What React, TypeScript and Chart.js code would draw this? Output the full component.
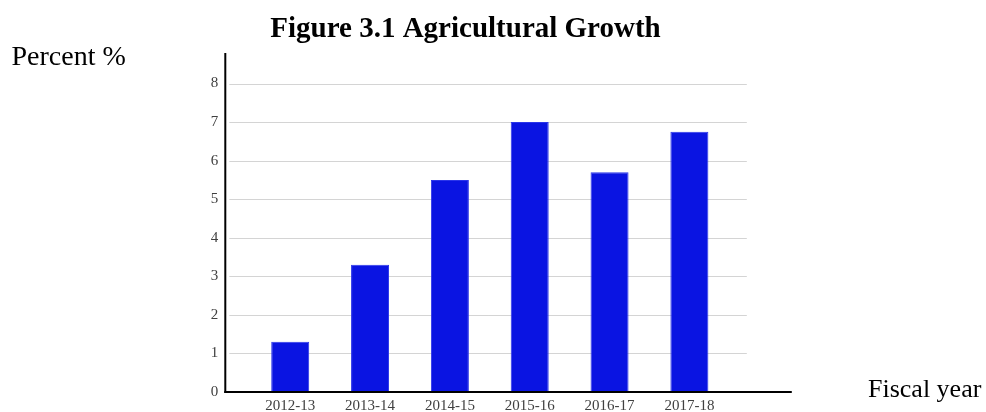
import React, { useEffect, useRef } from "react";
import { Chart, registerables } from "chart.js";

Chart.register(...registerables);

const TITLE = "Figure 3.1 Agricultural Growth";
const Y_LABEL = "Percent %";
const X_LABEL = "Fiscal year";
const categories = ["2012-13", "2013-14", "2014-15", "2015-16", "2016-17", "2017-18"];
const growth = [1.3, 3.3, 5.5, 7.0, 5.7, 6.75];
const Y_MIN = 0;
const Y_MAX = 8;
const Y_STEP = 1;

const SERIF = "'Liberation Serif', 'Times New Roman', serif";

const decorPlugin = {
  id: "decor",
  beforeDatasetsDraw(chart: any) {
    const { ctx, chartArea, scales } = chart;
    const y = scales.y;
    ctx.save();
    ctx.strokeStyle = "#d4d4d4";
    ctx.lineWidth = 1;
    y.ticks.forEach((t: any) => {
      if (t.value === Y_MIN) return;
      const py = Math.round(y.getPixelForValue(t.value)) + 0.5;
      ctx.beginPath();
      ctx.moveTo(chartArea.left - 21, py);
      ctx.lineTo(chartArea.right + 17.5, py);
      ctx.stroke();
    });
    ctx.restore();
  },
  afterDatasetsDraw(chart: any) {
    const { ctx, chartArea, scales } = chart;
    const y = scales.y;
    const y0 = y.getPixelForValue(Y_MIN);
    const yTop = y.getPixelForValue(Y_MAX) - 30.5;
    const ax = chartArea.left - 25;
    ctx.save();
    ctx.strokeStyle = "#000";
    ctx.lineWidth = 2;
    ctx.beginPath();
    ctx.moveTo(ax, yTop);
    ctx.lineTo(ax, y0 + 1);
    ctx.stroke();
    ctx.beginPath();
    ctx.moveTo(ax - 1, y0);
    ctx.lineTo(chartArea.right + 62.5, y0);
    ctx.stroke();
    ctx.restore();
  },
  afterDraw(chart: any) {
    const { ctx } = chart;
    ctx.save();
    ctx.fillStyle = "#000";
    ctx.textBaseline = "alphabetic";
    ctx.font = `bold 29px ${SERIF}`;
    ctx.textAlign = "center";
    ctx.fillText(TITLE, 465.5, 37);
    ctx.font = `28px ${SERIF}`;
    ctx.textAlign = "left";
    ctx.fillText(Y_LABEL, 11.5, 64.5);
    ctx.font = `26px ${SERIF}`;
    ctx.fillText(X_LABEL, 868, 396.5);
    ctx.restore();
  },
};

export default function App() {
  const ref = useRef<HTMLCanvasElement | null>(null);
  useEffect(() => {
    if (!ref.current) return;
    const chart = new Chart(ref.current, {
      type: "bar",
      data: {
        labels: categories,
        datasets: [
          {
            label: "Agricultural growth",
            data: growth,
            backgroundColor: "#0a14e2",
            borderColor: "#2a35ea",
            borderWidth: 1,
            categoryPercentage: 1,
            barPercentage: 0.476,
          },
        ],
      },
      options: {
        responsive: false,
        animation: false,
        devicePixelRatio: 1,
        layout: { padding: { top: 83.5, right: 256.7, bottom: 0, left: 0 } },
        plugins: {
          legend: { display: false },
          title: { display: false },
          tooltip: { enabled: false },
        },
        scales: {
          x: {
            type: "category",
            offset: true,
            grid: { display: false, drawTicks: false },
            border: { display: false },
            ticks: {
              color: "#404040",
              font: { family: SERIF, size: 15 },
              padding: 5,
              maxRotation: 0,
              autoSkip: false,
            },
            afterFit(scale: any) {
              scale.height = 20;
              scale.paddingTop = 0;
              scale.paddingBottom = 0;
            },
          },
          y: {
            min: Y_MIN,
            max: Y_MAX,
            grid: { display: false, drawTicks: false },
            border: { display: false },
            ticks: {
              stepSize: Y_STEP,
              color: "#404040",
              font: { family: SERIF, size: 15 },
              padding: 32,
            },
            afterFit(scale: any) {
              scale.width = 250.3;
              scale.paddingTop = 0;
              scale.paddingBottom = 0;
            },
          },
        },
      },
      plugins: [decorPlugin],
    });
    return () => chart.destroy();
  }, []);
  return (
    <div style={{ position: "absolute", left: 0, top: 0, width: 986, height: 412, background: "#fff" }}>
      <canvas ref={ref} width={986} height={412} style={{ display: "block" }} />
    </div>
  );
}
